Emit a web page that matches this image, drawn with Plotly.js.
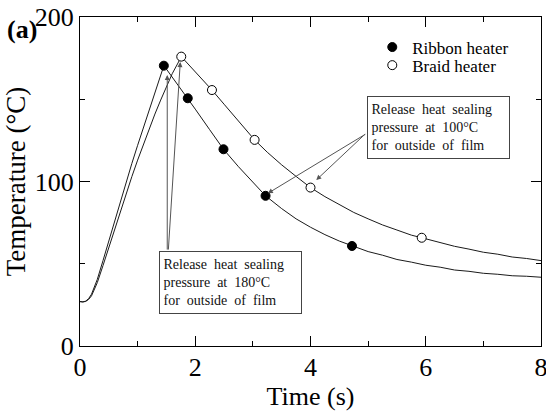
<!DOCTYPE html>
<html>
<head>
<meta charset="utf-8">
<script src="https://cdn.plot.ly/plotly-3.0.1.min.js"></script>
<style>html,body{margin:0;padding:0;background:#fff;overflow:hidden;}#chart{width:546px;height:412px;}</style>
</head>
<body>
<div id="chart"></div>
<script>
// Ribbon heater curve (time s, temperature °C)
const ribbonT = [0,0.05,0.1,0.15,0.2,0.25,0.3,0.4,0.5,0.6,0.7,0.8,0.9,1.0,1.1,1.2,1.3,1.4,1.455,1.5,1.6,1.7,1.87,2.0,2.25,2.49,2.75,3.0,3.22,3.5,3.75,4.0,4.25,4.5,4.72,5.0,5.25,5.5,5.75,6.0,6.25,6.5,6.75,7.0,7.25,7.5,7.75,8.0];
const ribbonY = [27,26.8,27.3,28.8,31.5,35.5,40.5,52,64,76,88,99.5,111,122,132.5,143,153,164.5,170.4,168.3,163.5,158.7,150.6,144,131.5,119.6,109,99.5,91.3,83.5,77.3,72.2,67.7,63.8,60.8,57.4,55.2,52.6,51.0,49.1,47.9,46.2,45.4,44.2,43.6,42.7,42.4,41.8];
// Braid heater curve
const braidT = [0,0.05,0.1,0.15,0.2,0.25,0.3,0.4,0.5,0.6,0.7,0.8,0.9,1.0,1.1,1.2,1.3,1.4,1.5,1.6,1.7,1.757,1.8,1.9,2.0,2.1,2.29,2.5,2.75,3.03,3.25,3.5,3.75,4.0,4.25,4.5,4.75,5.0,5.25,5.5,5.75,5.93,6.25,6.5,6.75,7.0,7.25,7.5,7.75,8.0];
const braidY = [27,26.8,27.1,28.3,30.5,34,38.5,49,60,71,82,92.5,103,113,122.5,132,141,149.5,158,165.5,172,175.9,174.3,170.5,166.7,163,155.6,147,136.7,125.3,117.8,110.1,103.1,96.3,90.8,85.8,81.2,77.3,73.6,70.5,67.4,65.8,62.9,60.6,58.9,57.0,55.8,54.1,53.2,51.9];
// Marker points
const ribbonMarkT = [1.455,1.87,2.49,3.22,4.72];
const ribbonMarkY = [170.4,150.6,119.6,91.3,60.8];
const braidMarkT = [1.757,2.29,3.03,4.0,5.93];
const braidMarkY = [175.9,155.6,125.3,96.3,65.8];
// Axis ticks
const xTicks = [0,2,4,6,8];
const yTicks = [0,100,200];
// Labels
const seriesNames = ["Ribbon heater","Braid heater"];
const note180 = "Release&nbsp; heat&nbsp; sealing<br>pressure&nbsp; at&nbsp; 180°C<br>for&nbsp; outside&nbsp; of&nbsp; film";
const note100 = "Release&nbsp; heat&nbsp; sealing<br>pressure&nbsp; at&nbsp; 100°C<br>for&nbsp; outside&nbsp; of&nbsp; film";

const serif = "Liberation Serif";

const traces = [
  {x: ribbonT, y: ribbonY, mode: "lines", line: {color: "#1a1a1a", width: 1}, showlegend: false, hoverinfo: "skip"},
  {x: braidT, y: braidY, mode: "lines", line: {color: "#1a1a1a", width: 1}, showlegend: false, hoverinfo: "skip"},
  {x: ribbonMarkT, y: ribbonMarkY, mode: "markers", name: seriesNames[0], legend: "legend",
   marker: {symbol: "circle", size: 9, color: "black", line: {color: "black", width: 1}}},
  {x: braidMarkT, y: braidMarkY, mode: "markers", name: seriesNames[1], legend: "legend2",
   marker: {symbol: "circle", size: 9, color: "white", line: {color: "black", width: 1}}}
];

const arrowStyle = {showarrow: true, arrowhead: 2, arrowsize: 1, arrowwidth: 1, arrowcolor: "#555", text: "", xref: "x", yref: "y"};
const boxStyle = {showarrow: false, xref: "x", yref: "y", align: "left", bordercolor: "#444", borderwidth: 1,
  borderpad: 3.5, bgcolor: "white", width: 134, height: 54, font: {family: serif, size: 14, color: "#111"}};
const legendStyle = {xanchor: "left", yanchor: "top", bgcolor: "rgba(0,0,0,0)",
  font: {family: serif, size: 17, color: "black"}, itemwidth: 30};

const layout = {
  width: 546, height: 412,
  margin: {l: 80, r: 5, t: 17, b: 66, pad: 0},
  paper_bgcolor: "white", plot_bgcolor: "white",
  font: {family: serif, color: "black"},
  showlegend: true,
  legend: Object.assign({}, legendStyle, {x: 0.634, y: 0.962}),
  legend2: Object.assign({}, legendStyle, {x: 0.634, y: 0.907}),
  xaxis: {range: [0, 8], tickvals: xTicks, ticktext: xTicks.map(String), ticks: "inside", ticklen: 10, tickwidth: 1, tickcolor: "black",
          minor: {dtick: 1, ticks: "inside", ticklen: 5, tickcolor: "black", tickwidth: 1, showgrid: false},
          showline: true, linecolor: "black", linewidth: 1, mirror: "allticks", showgrid: false, zeroline: false,
          ticklabeloverflow: "allow", ticklabelstandoff: -2,
          tickfont: {family: serif, size: 26, color: "black"},
          title: {text: "Time (s)", font: {family: serif, size: 26, color: "black"}, standoff: 3}},
  yaxis: {range: [0, 200], tickvals: yTicks, ticktext: yTicks.map(String), ticks: "inside", ticklen: 10, tickwidth: 1, tickcolor: "black",
          minor: {dtick: 50, ticks: "inside", ticklen: 5, tickcolor: "black", tickwidth: 1, showgrid: false},
          showline: true, linecolor: "black", linewidth: 1, mirror: "allticks", showgrid: false, zeroline: false,
          ticklabeloverflow: "allow",
          tickfont: {family: serif, size: 26, color: "black"},
          title: {text: "Temperature (°C)", font: {family: serif, size: 27, color: "black"}, standoff: 1}},
  annotations: [
    {text: "<b>(a)</b>", xref: "paper", yref: "paper", x: -0.163, y: 0.962, xanchor: "left", yanchor: "middle",
     showarrow: false, font: {family: serif, size: 26, color: "black"}},
    Object.assign({}, boxStyle, {text: note180, x: 2.613, y: 38.9}),
    Object.assign({}, boxStyle, {text: note100, x: 6.215, y: 132.8}),
    Object.assign({}, arrowStyle, {x: 1.514, y: 164.7, ax: 0, ay: 176}),
    Object.assign({}, arrowStyle, {x: 1.74, y: 172.6, ax: -12, ay: 189}),
    Object.assign({}, arrowStyle, {x: 3.26, y: 92.8, ax: 99, ay: -60}),
    Object.assign({}, arrowStyle, {x: 4.10, y: 100.9, ax: 50, ay: -47})
  ]
};

Plotly.newPlot("chart", traces, layout, {staticPlot: true, displayModeBar: false});
</script>
</body>
</html>
